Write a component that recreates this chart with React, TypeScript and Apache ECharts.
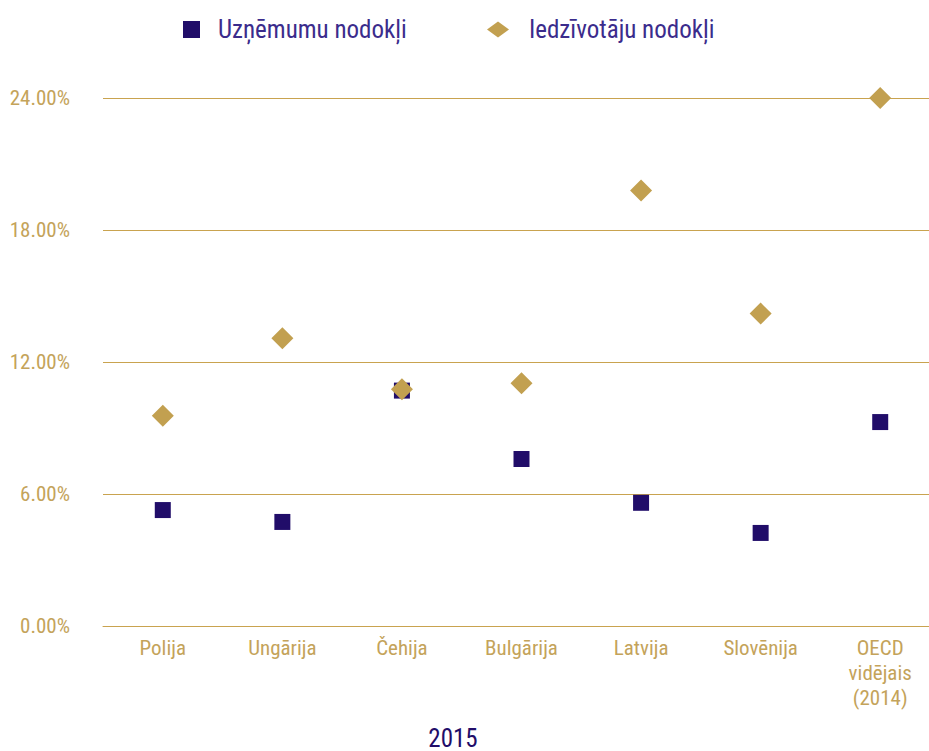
import React, { useEffect, useRef } from "react";
import * as echarts from "echarts";

const categories = ["Polija", "Ungārija", "Čehija", "Bulgārija", "Latvija", "Slovēnija", "OECD\nvidējais\n(2014)"];
const corporateTax = [5.27, 4.73, 10.7, 7.59, 5.6, 4.23, 9.27];
const personalTax = [9.56, 13.08, 10.76, 11.03, 19.79, 14.2, 24.0];
const seriesNames = ["Uzņēmumu nodokļi", "Iedzīvotāju nodokļi"];
const yearLabel = "2015";

const FONT = "'Roboto Condensed', 'Liberation Sans Narrow', 'DejaVu Sans Condensed', Roboto, sans-serif";
const GOLD = "#c2a050";
const LINE = "#c9a34f";
const LABEL = "#c4a35a";
const NAVY = "#210d69";
const LEGEND_TEXT = "#3b2c8c";

export default function App() {
  const ref = useRef<HTMLDivElement>(null);
  useEffect(() => {
    document.body.style.margin = "0";
    const chart = echarts.init(ref.current!, undefined, { renderer: "svg" });
    chart.setOption({
      animation: false,
      grid: { left: 103, right: 0, top: 98, bottom: 125, containLabel: false },
      legend: [
        {
          data: [seriesNames[0]],
          icon: "rect",
          itemWidth: 17,
          itemHeight: 17,
          left: 178,
          top: 12,
          itemStyle: { opacity: 1 },
          textStyle: { fontFamily: FONT, fontSize: 25, color: LEGEND_TEXT, padding: [0, 0, 0, 13] },
        },
        {
          data: [seriesNames[1]],
          icon: "diamond",
          itemWidth: 22,
          itemHeight: 16,
          left: 482,
          top: 12,
          itemStyle: { opacity: 1 },
          textStyle: { fontFamily: FONT, fontSize: 25, color: LEGEND_TEXT, padding: [0, 0, 0, 15] },
        },
      ],
      xAxis: {
        type: "category",
        data: categories,
        axisLine: { show: true, lineStyle: { color: LINE, width: 1 } },
        axisTick: { show: false },
        axisLabel: {
          color: LABEL,
          fontFamily: FONT,
          fontSize: 21,
          lineHeight: 25,
          margin: 9,
          interval: 0,
        },
        splitLine: { show: false },
      },
      yAxis: {
        type: "value",
        min: 0,
        max: 24,
        interval: 6,
        axisLine: { show: false },
        axisTick: { show: false },
        axisLabel: {
          color: LABEL,
          fontFamily: FONT,
          fontSize: 21,
          margin: 33,
          formatter: (v: number) => v.toFixed(2) + "%",
        },
        splitLine: { show: true, lineStyle: { color: LINE, width: 1 } },
      },
      graphic: [
        {
          type: "text",
          x: 453,
          y: 738,
          style: {
            text: yearLabel,
            fill: NAVY,
            font: `25px ${FONT}`,
            textAlign: "center",
            textVerticalAlign: "middle",
          },
        },
      ],
      series: [
        {
          name: seriesNames[0],
          type: "scatter",
          symbol: "rect",
          symbolSize: 16,
          itemStyle: { color: NAVY, opacity: 1 },
          data: corporateTax,
          z: 2,
        },
        {
          name: seriesNames[1],
          type: "scatter",
          symbol: "diamond",
          symbolSize: 22,
          itemStyle: { color: GOLD, opacity: 1 },
          data: personalTax,
          z: 3,
        },
      ],
    });
    return () => chart.dispose();
  }, []);
  return (
    <div style={{ width: 929, height: 751, overflow: "hidden", position: "relative" }}>
      <div ref={ref} style={{ width: 940, height: 751 }} />
    </div>
  );
}
